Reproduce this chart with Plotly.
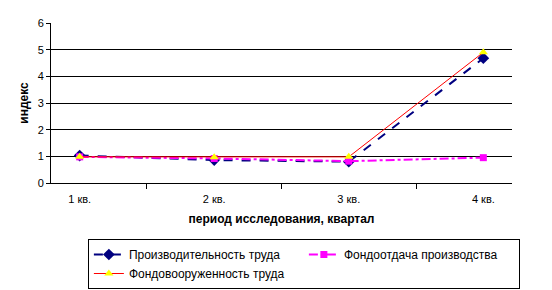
import plotly.graph_objects as go

categories = ["1 кв.", "2 кв.", "3 кв.", "4 кв."]
proizvod = [1.03, 0.86, 0.8, 4.68]
fondootdacha = [0.98, 0.92, 0.82, 0.95]
fondovoor = [0.98, 0.97, 0.98, 4.9]
names = ["Производительность труда", "Фондоотдача производства", "Фондовооруженность труда"]

fig = go.Figure()
fig.add_trace(go.Scatter(x=categories, y=proizvod, name=names[0], mode="lines+markers",
                         line=dict(color="#000080", width=2, dash="dash"),
                         marker=dict(symbol="diamond", size=9, color="#000080")))
fig.add_trace(go.Scatter(x=categories, y=fondootdacha, name=names[1], mode="lines+markers",
                         line=dict(color="#FF00FF", width=2, dash="dashdot"),
                         marker=dict(symbol="square", size=7, color="#FF00FF")))
fig.add_trace(go.Scatter(x=categories, y=fondovoor, name=names[2], mode="lines+markers",
                         line=dict(color="#FF0000", width=1),
                         marker=dict(symbol="triangle-up", size=8, color="#FFFF00")))

font = dict(family="Liberation Sans, Arial", size=11, color="black")
fig.update_layout(
    width=552, height=290,
    margin=dict(l=51, r=40, t=23, b=107, autoexpand=False),
    paper_bgcolor="white", plot_bgcolor="white",
    font=font,
    xaxis=dict(type="category", tickson="boundaries", ticks="outside", ticklen=5,
               tickcolor="black", showline=True, linecolor="black", linewidth=1,
               showgrid=False, zeroline=False, ticklabelstandoff=6,
               title=dict(text="<b>период исследования, квартал</b>", standoff=10,
                          font=dict(family="Liberation Sans, Arial", size=12))),
    yaxis=dict(range=[0, 6], dtick=1, ticks="outside", ticklen=4, tickcolor="black",
               showline=True, linecolor="black", linewidth=1,
               showgrid=True, gridcolor="black", gridwidth=1, zeroline=False,
               title=dict(text="<b>индекс</b>", standoff=6,
                          font=dict(family="Liberation Sans, Arial", size=12))),
    legend=dict(orientation="h", x=0.08, xanchor="left", y=-0.35, yanchor="top",
                bordercolor="black", borderwidth=1, entrywidth=170, entrywidthmode="pixels",
                font=dict(family="Liberation Sans, Arial", size=12), tracegroupgap=0,
                itemwidth=30),
    showlegend=True,
)
fig.write_html("out.html")
